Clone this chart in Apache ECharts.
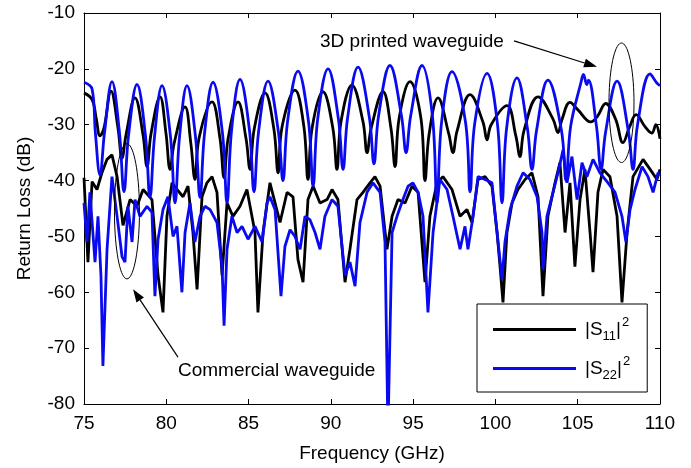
<!DOCTYPE html>
<html>
<head>
<meta charset="utf-8">
<script src="https://cdn.jsdelivr.net/npm/echarts@6/dist/echarts.min.js"></script>
<style>
  html, body { margin: 0; padding: 0; background: #fff; }
  #chart { width: 691px; height: 468px; }
</style>
</head>
<body>
<div id="chart"></div>
<script>
// [frequency (GHz), return loss (dB)]
const s11Printed = [
  [75.0, -24.3], [75.49, -25.5], [75.75, -29], [75.97, -32], [76.22, -30.5], [76.64, -24],
  [77.06, -30.5], [77.31, -36], [77.56, -31.7], [78.10, -25.2],
  [78.58, -31.7], [78.83, -37.5], [79.08, -31.5], [79.62, -25],
  [79.98, -31.5], [80.23, -38], [80.48, -33.3], [81.14, -26.8],
  [81.49, -33.3], [81.74, -39.8], [81.99, -32.4], [82.78, -25.9],
  [83.26, -32.4], [83.51, -39.5], [83.76, -32.4], [84.36, -25.9],
  [84.84, -32.4], [85.09, -38], [85.34, -30.8], [86.00, -24.3],
  [86.54, -30.8], [86.79, -38.6], [87.04, -30.3], [87.82, -23.8],
  [88.36, -30.3], [88.61, -39.8], [88.86, -30.6], [89.52, -24.1],
  [90.12, -30.6], [90.37, -38], [90.62, -29.4], [91.28, -22.9],
  [91.95, -29.4], [92.20, -35], [92.45, -30.6], [93.17, -24.1],
  [93.65, -30.6], [93.90, -37.5], [94.15, -28.8], [94.81, -22.3],
  [95.47, -28.8], [95.72, -40], [95.97, -31.7], [96.51, -25.2],
  [97.17, -31.7], [97.42, -35], [97.67, -31.1], [98.46, -24.6],
  [99.24, -29.5], [99.49, -32.7], [99.74, -30], [100.70, -26.6],
  [101.24, -32], [101.49, -35.7], [101.74, -31], [102.59, -25],
  [103.50, -29], [103.80, -31.4], [104.05, -29], [104.53, -26],
  [105.0, -27.3], [105.8, -29.5], [106.2, -28.5], [106.7, -26.2], [107.3, -29],
  [107.75, -33.2], [108.15, -30.4], [108.55, -28.2], [109.1, -30.4], [109.5, -31.5],
  [109.75, -30], [110, -32.5]
]

const s22Printed = [
  [75.0, -22.4], [75.49, -23.6], [75.69, -31.4], [75.97, -39], [76.25, -31.3], [76.70, -22.3],
  [77.15, -31.3], [77.43, -42], [77.71, -31.8], [78.22, -22.8],
  [78.73, -31.8], [79.01, -43], [79.29, -32], [79.74, -23],
  [80.25, -32], [80.53, -44], [80.81, -32], [81.26, -23],
  [81.77, -32], [82.05, -43], [82.33, -31.4], [82.84, -22.4],
  [83.41, -31.4], [83.69, -44], [83.97, -30.9], [84.48, -21.9],
  [85.05, -30.9], [85.33, -42], [85.61, -31.2], [86.18, -22.2],
  [86.81, -31.2], [87.09, -40], [87.37, -29.4], [88.00, -20.4],
  [88.64, -29.4], [88.92, -41], [89.20, -29], [89.83, -20],
  [90.46, -29], [90.74, -38], [91.02, -28.7], [91.65, -19.7],
  [92.34, -28.7], [92.62, -37], [92.90, -28.4], [93.59, -19.4],
  [94.29, -28.4], [94.57, -35], [94.85, -28.4], [95.54, -19.4],
  [96.17, -28.4], [96.45, -44], [96.73, -29.5], [97.36, -20.5],
  [98.18, -29.5], [98.46, -42], [98.74, -29.8], [99.49, -20.8],
  [100.12, -29.8], [100.40, -44], [100.68, -30.6], [101.31, -21.6],
  [101.94, -30.6], [102.22, -38], [102.50, -31], [103.19, -22],
  [104.01, -31], [104.29, -40], [104.57, -30.3], [105.2, -22.4], [105.35, -21.0],
  [105.55, -22.8], [105.65, -22.0],
  [106.14, -30.3], [106.42, -38], [106.70, -31.2], [107.39, -22.2],
  [108.08, -31.2], [108.36, -38], [108.64, -29.9], [109.40, -20.9], [109.8, -22.5], [110, -23]
]

const s11Commercial = [
  [75.0, -39.5], [75.24, -54.6], [75.49, -40.2], [75.79, -41.6], [76.09, -38.6], [76.40, -36.2],
  [76.70, -35.4], [77.01, -39.3], [77.37, -48], [77.80, -43.4], [78.22, -44.6], [78.59, -41.6],
  [79.13, -43.4], [79.50, -57], [79.80, -63.6], [80.04, -46.4], [80.35, -40.4], [80.65, -41.6],
  [81.02, -42.9], [81.32, -41], [81.62, -49.3], [81.87, -59.5], [82.17, -42.9], [82.47, -40.4],
  [82.78, -39.3], [83.08, -42.1], [83.39, -57], [83.69, -44], [84.05, -46.4], [84.48, -44.6],
  [84.90, -41.6], [85.39, -49.3], [85.57, -63.6], [85.88, -49.3], [86.30, -40.4], [86.91, -47.5],
  [87.34, -42.1], [87.70, -42.9], [88.00, -54.1], [88.31, -58.2], [88.61, -43.4], [88.92, -41],
  [89.34, -44], [89.77, -43.4], [90.07, -41.6], [90.43, -43.4], [90.86, -58.2], [91.16, -52.3],
  [91.59, -43.4], [91.95, -42.1], [92.38, -40.4], [92.68, -39.3], [92.99, -41], [93.41, -52.3],
  [93.72, -46.4], [94.08, -43.4], [94.51, -44], [94.93, -41], [95.30, -42.1], [95.72, -58.2],
  [96.02, -46.4], [96.45, -40.4], [96.81, -39.3], [97.36, -41.6], [97.85, -46.4], [98.27, -45.2],
  [98.58, -47.5], [98.94, -39.8], [99.37, -39.3], [99.79, -41], [100.10, -49.3], [100.28, -55.4],
  [100.46, -61.8], [100.70, -49.3], [101.01, -44], [101.37, -41.6], [101.80, -39.8], [102.22, -38.6],
  [102.59, -42.9], [102.89, -60.7], [103.19, -46.4], [103.62, -40.4], [103.92, -36.8], [104.23, -49.3],
  [104.53, -40.4], [104.83, -55.4], [105.14, -43.4], [105.44, -38], [105.75, -49.3], [105.93, -56.4],
  [106.23, -42.1], [106.54, -38], [106.96, -39.3], [107.39, -46.4], [107.69, -61.8], [108.00, -49.3],
  [108.36, -39.3], [108.97, -36.2], [109.40, -38], [109.82, -39.8], [110, -38]
]

const s22Commercial = [
  [75.0, -44], [75.18, -51], [75.36, -42.1], [75.67, -54.6], [75.85, -46.4], [76.03, -57],
  [76.15, -73.2], [76.40, -52.3], [76.70, -39.3], [77.01, -46.4], [77.31, -53.6], [77.49, -54.6],
  [77.67, -44.6], [77.92, -51], [78.10, -43.4], [78.40, -46.4], [78.83, -44.6], [79.13, -45.7],
  [79.31, -60.7], [79.50, -50.5], [79.80, -45.2], [80.10, -42.9], [80.41, -50], [80.65, -48.2],
  [80.95, -60], [81.14, -49.3], [81.44, -44], [81.74, -51], [82.05, -46.4], [82.35, -44.6],
  [82.66, -45.2], [83.08, -47.5], [83.39, -55.4], [83.51, -66], [83.69, -52.3], [83.99, -46.4],
  [84.30, -49.3], [84.60, -48.2], [84.97, -50.5], [85.39, -48.2], [85.82, -51], [86.12, -44],
  [86.30, -42.9], [86.61, -45.2], [86.97, -60.7], [87.21, -51.8], [87.52, -48.8], [87.82, -50],
  [88.13, -52.3], [88.43, -46.4], [88.73, -47], [89.04, -49.3], [89.34, -52.3], [89.64, -46.4],
  [90.07, -43.4], [90.43, -44.6], [90.86, -57], [91.16, -54.6], [91.47, -58.9], [91.77, -47.5],
  [92.20, -42.1], [92.56, -40.4], [92.99, -42.1], [93.29, -51], [93.47, -85], [93.72, -49.3],
  [94.02, -46.4], [94.38, -43.4], [94.69, -41], [94.99, -40.4], [95.30, -42.1], [95.60, -46.4],
  [95.90, -63.6], [96.21, -49.3], [96.63, -39.8], [97.06, -41.6], [97.42, -46.4], [97.85, -52.3],
  [98.15, -48.2], [98.33, -52.3], [98.64, -46.4], [98.94, -39.3], [99.37, -39.8], [99.79, -40.4],
  [100.10, -49.3], [100.40, -57.7], [100.58, -51], [100.89, -45.2], [101.31, -41], [101.68, -38.6],
  [102.10, -39.8], [102.53, -42.9], [102.83, -49.3], [102.89, -55.9], [103.13, -46.4], [103.50, -42.1],
  [103.80, -38.6], [104.11, -34.5], [104.35, -40.4], [104.65, -35.7], [104.96, -43.4], [105.26, -36.8],
  [105.56, -39.3], [105.93, -36.2], [106.35, -38.6], [106.84, -40.4], [107.27, -42.1], [107.69, -46.4],
  [107.93, -51], [108.18, -45.2], [108.48, -41.6], [108.91, -37.5], [109.27, -39.3], [109.58, -42.1],
  [109.88, -38.6], [110, -39]
]

const freqMin = 75, freqMax = 110, freqStep = 5
const lossMin = -80, lossMax = -10, lossStep = 10

const FONT = 'Liberation Sans, Arial, Helvetica, sans-serif'
const BLACK = '#000000'
const BLUE = '#0a0af0'

const chart = echarts.init(document.getElementById('chart'))

const tickStyle = { inside: true, length: 5, lineStyle: { color: '#000', width: 1 } }
const lineAxis = { lineStyle: { color: '#000', width: 1 } }

const option = {
  animation: false,
  backgroundColor: '#fff',
  grid: { left: 84, right: 31, top: 13, bottom: 63 },
  legend: {
    data: ['S11', 'S22'],
    orient: 'vertical',
    left: 477,
    top: 304,
    padding: [12, 17, 10, 16],
    itemGap: 12,
    icon: 'rect',
    itemWidth: 83,
    itemHeight: 3,
    backgroundColor: '#fff',
    borderColor: '#000',
    borderWidth: 1,
    borderRadius: 0,
    formatter: name => name === 'S11'
      ? '{m||S}{s|11}{m||}{p|2}'
      : '{m||S}{s|22}{m||}{p|2}',
    textStyle: {
      color: '#000',
      padding: [0, 0, 0, 4],
      rich: {
        m: { fontFamily: FONT, fontSize: 19, color: '#000' },
        s: { fontFamily: FONT, fontSize: 13, color: '#000', padding: [14, 0, 0, 0] },
        p: { fontFamily: FONT, fontSize: 13, color: '#000', padding: [0, 0, 14, 1] }
      }
    }
  },
  xAxis: [
    {
      type: 'value',
      min: freqMin,
      max: freqMax,
      interval: freqStep,
      position: 'bottom',
      name: 'Frequency (GHz)',
      nameLocation: 'middle',
      nameGap: 40,
      nameTextStyle: { fontFamily: FONT, fontSize: 19, color: '#000' },
      axisLine: lineAxis,
      axisTick: tickStyle,
      axisLabel: { fontFamily: FONT, fontSize: 19, color: '#000', margin: 10 },
      splitLine: { show: false }
    },
    {
      type: 'value',
      min: freqMin,
      max: freqMax,
      interval: freqStep,
      position: 'top',
      axisLine: lineAxis,
      axisTick: tickStyle,
      axisLabel: { show: false },
      splitLine: { show: false }
    }
  ],
  yAxis: [
    {
      type: 'value',
      min: lossMin,
      max: lossMax,
      interval: lossStep,
      position: 'left',
      name: 'Return Loss (dB)',
      nameLocation: 'middle',
      nameGap: 50,
      nameTextStyle: { fontFamily: FONT, fontSize: 19, color: '#000' },
      axisLine: { show: true, ...lineAxis },
      axisTick: tickStyle,
      axisLabel: { fontFamily: FONT, fontSize: 19, color: '#000', margin: 9 },
      splitLine: { show: false }
    },
    {
      type: 'value',
      min: lossMin,
      max: lossMax,
      interval: lossStep,
      position: 'right',
      axisLine: { show: true, ...lineAxis },
      axisTick: tickStyle,
      axisLabel: { show: false },
      splitLine: { show: false }
    }
  ],
  series: [
    {
      name: 'S11', type: 'line', data: s11Commercial, symbol: 'none',
      lineStyle: { color: BLACK, width: 2.8 }, itemStyle: { color: BLACK }
    },
    {
      name: 'S11', type: 'line', data: s11Printed, symbol: 'none', smooth: 0.4,
      lineStyle: { color: BLACK, width: 2.8 }, itemStyle: { color: BLACK }
    },
    {
      name: 'S22', type: 'line', data: s22Commercial, symbol: 'none',
      lineStyle: { color: BLUE, width: 2.8 }, itemStyle: { color: BLUE }
    },
    {
      name: 'S22', type: 'line', data: s22Printed, symbol: 'none', smooth: 0.4,
      lineStyle: { color: BLUE, width: 2.8 }, itemStyle: { color: BLUE }
    }
  ]
}

chart.setOption(option)

// annotations, placed in data coordinates
const toPx = p => chart.convertToPixel({ gridIndex: 0 }, p)

const ellipse = (center, rf, rd) => {
  const c = toPx(center)
  const rx = toPx([center[0] + rf, center[1]])[0] - c[0]
  const ry = c[1] - toPx([center[0], center[1] + rd])[1]
  const pts = []
  for (let i = 0; i < 72; i++) {
    const a = (i / 72) * Math.PI * 2
    pts.push([c[0] + rx * Math.cos(a), c[1] + ry * Math.sin(a)])
  }
  return { type: 'polygon', shape: { points: pts }, style: { fill: null, stroke: '#000', lineWidth: 1 }, z: 100 }
}

const arrow = (from, to) => {
  const a = toPx(from)
  const b = toPx(to)
  const dx = b[0] - a[0], dy = b[1] - a[1]
  const len = Math.sqrt(dx * dx + dy * dy)
  const ux = dx / len, uy = dy / len
  const L = 13, W = 9
  const bx = b[0] - ux * L, by = b[1] - uy * L
  return [
    { type: 'line', shape: { x1: a[0], y1: a[1], x2: bx, y2: by }, style: { stroke: '#000', lineWidth: 1.2 }, z: 100 },
    {
      type: 'polygon',
      shape: { points: [[b[0], b[1]], [bx - uy * W / 2, by + ux * W / 2], [bx + uy * W / 2, by - ux * W / 2]] },
      style: { fill: '#000' },
      z: 100
    }
  ]
}

const label = (pos, text) => {
  const p = toPx(pos)
  return {
    type: 'text', x: p[0], y: p[1], z: 100,
    style: { text: text, fill: '#000', font: '19px ' + FONT, textAlign: 'left', textVerticalAlign: 'middle' }
  }
}

chart.setOption({
  graphic: [
    label([89.34, -15.2], '3D printed waveguide'),
    ...arrow([101.13, -15.0], [106.17, -19.64]),
    ellipse([107.66, -26.07], 0.76, 10.7),
    label([80.71, -74.1], 'Commercial waveguide'),
    ...arrow([80.71, -71.6], [77.98, -59.46]),
    ellipse([77.61, -45.5], 0.76, 12.1)
  ]
})
</script>
</body>
</html>
